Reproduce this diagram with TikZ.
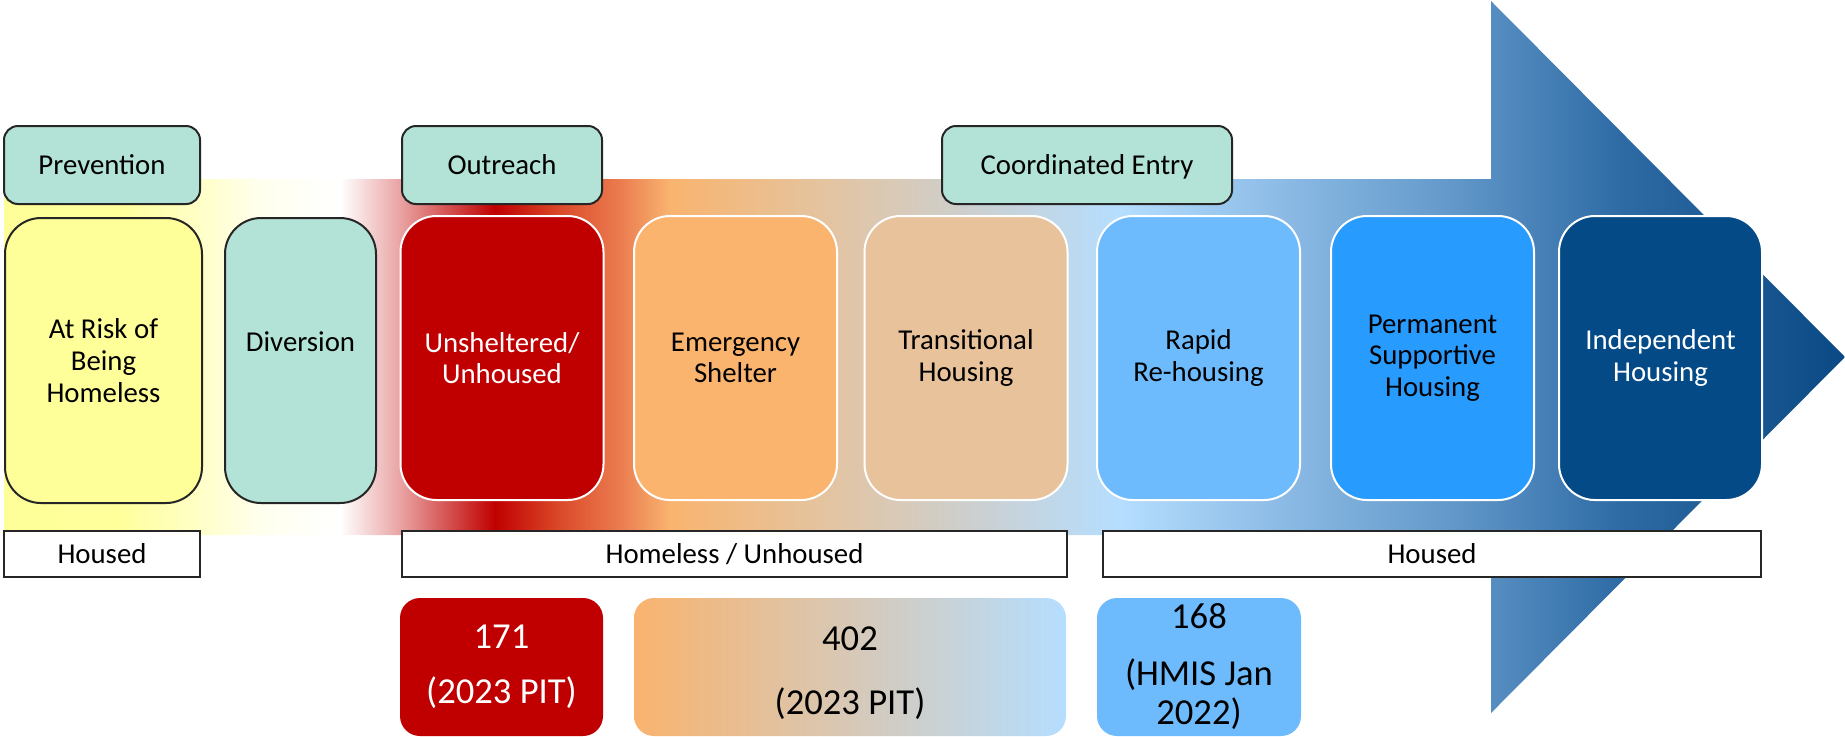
\documentclass[tikz,border=0pt]{standalone}
\usepackage{fontspec}
\setmainfont{Carlito}
\usepackage{tikz}
\usetikzlibrary{positioning}

\definecolor{mint}{HTML}{B3E3D6}
\definecolor{riskyel}{HTML}{FFFF99}
\definecolor{unred}{HTML}{C00000}
\definecolor{emorg}{HTML}{FBB46E}
\definecolor{trtan}{HTML}{E8C29B}
\definecolor{rrblue}{HTML}{6DBBFD}
\definecolor{psblue}{HTML}{289BFF}
\definecolor{ihblue}{HTML}{034A86}
\definecolor{pitorg}{HTML}{F9B36E}
\definecolor{pitblue}{HTML}{B5DEFF}

\definecolor{fa}{HTML}{FFFF99}
\definecolor{fb}{HTML}{FFFF9C}
\definecolor{fc}{HTML}{FFFFC8}
\definecolor{fd}{HTML}{FFFFEE}
\definecolor{fe}{HTML}{FFFFFF}
\definecolor{ff}{HTML}{E9A3A3}
\definecolor{fg}{HTML}{C00000}
\definecolor{fh}{HTML}{DB4A2A}
\definecolor{fi}{HTML}{EB7C50}
\definecolor{fj}{HTML}{F9B46F}
\definecolor{fk}{HTML}{E3C4A2}
\definecolor{fl}{HTML}{C8D2D8}
\definecolor{fm}{HTML}{B5DEFF}
\definecolor{fn}{HTML}{8CBBE5}
\definecolor{fo}{HTML}{6399CA}
\definecolor{fp}{HTML}{2E6BA5}
\definecolor{fq}{HTML}{0B4984}

\pgfdeclarehorizontalshading{flowshade}{100bp}{color(0bp)=(fa); color(25bp)=(fa);
  color(28.15bp)=(fb); color(30.32bp)=(fc); color(31.95bp)=(fd); color(34.13bp)=(fe);
  color(35.76bp)=(ff); color(38.34bp)=(fg); color(40.10bp)=(fh); color(41.73bp)=(fi);
  color(43.09bp)=(fj); color(47.43bp)=(fk); color(52.05bp)=(fl); color(55.31bp)=(fm);
  color(59.66bp)=(fn); color(64.27bp)=(fo); color(68.89bp)=(fp); color(75bp)=(fq);
  color(100bp)=(fq)}

\newcommand{\boxfont}{\fontsize{14.4}{15.8}\selectfont}
\newcommand{\numfont}{\fontsize{18.3}{19.5}\selectfont}

\begin{document}
\begin{tikzpicture}[x=0.5pt, y=-0.5pt,
  tagbox/.style={draw=black!85, line width=1pt, fill=mint, rounded corners=7pt,
    minimum width=#1, minimum height=39pt, inner sep=0pt, text height=9.3pt,
    text depth=0pt, font=\boxfont},
  sidebox/.style={draw=black!85, line width=1pt, rounded corners=18pt,
    minimum width=#1, minimum height=142.5pt, inner sep=0pt, align=center, font=\boxfont},
  stagebox/.style={draw=white, line width=1pt, fill=#1, rounded corners=18pt,
    minimum width=101.5pt, minimum height=142pt, inner sep=0pt, align=center, font=\boxfont},
  bandbox/.style={draw=black!85, line width=1pt, fill=white,
    minimum width=#1, minimum height=23pt, inner sep=0pt, font=\boxfont},
  countbox/.style={rounded corners=10pt, minimum width=#1, minimum height=69pt,
    inner sep=0pt, align=center, font=\numfont}]
  \useasboundingbox (0,0) rectangle (1845,736);

  \shade[shading=flowshade] (4,179) -- (1491,179) -- (1491,1) -- (1845,357)
    -- (1491,713) -- (1491,535) -- (4,535) -- cycle;

  \node[tagbox=98pt] (pv) at (102,165) {Prevention};
  \node[tagbox=100pt] (ot) at (502,165) {Outreach};
  \node[tagbox=145pt] (ce) at (1087,165) {Coordinated Entry};

  \node[sidebox=98.5pt, fill=riskyel] (ar) at (103.5,360.5) {At Risk of\\Being\\Homeless};
  \node[sidebox=75.5pt, fill=mint, text height=9.3pt, text depth=18.5pt] (dv) at (300.5,360.5) {Diversion};

  \node[stagebox=unred, text=white] (un) at (502,358) {Unsheltered/\\Unhoused};
  \node[stagebox=emorg] (es) at (735.5,358) {Emergency\\Shelter};
  \node[stagebox=trtan] (th) at (966,358) {Transitional\\Housing};
  \node[stagebox=rrblue] (rr) at (1198.5,358) {Rapid\\Re-housing};
  \node[stagebox=psblue] (ps) at (1432.5,358) {Permanent\\Supportive\\Housing};
  \node[stagebox=ihblue, text=white] (ih) at (1660.5,358) {Independent\\Housing};

  \node[bandbox=98pt] (hl) at (102,554) {Housed};
  \node[bandbox=332.5pt] (hu) at (734.5,554) {Homeless / Unhoused};
  \node[bandbox=329pt] (hr) at (1432,554) {Housed};

  \node[countbox=101.5pt, fill=unred, text=white] (c1) at (501.5,667) {171\\[8pt](2023 PIT)};
  \node[countbox=216pt, left color=pitorg, right color=pitblue] (c2) at (850,667) {\rule{0pt}{17.6pt}402\\[12.5pt](2023 PIT)};
  \node[countbox=102pt, fill=rrblue] (c3) at (1199,667) {168\\[9pt](HMIS Jan\\2022)};
\end{tikzpicture}
\end{document}
